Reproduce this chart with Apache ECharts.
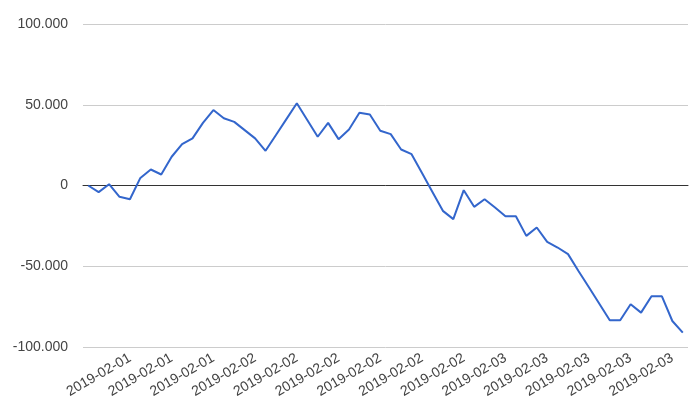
<!DOCTYPE html>
<html>
<head>
<meta charset="utf-8">
<script src="https://cdn.jsdelivr.net/npm/echarts@6/dist/echarts.min.js"></script>
<style>
  html, body { margin: 0; padding: 0; background: #fff; }
  #chart { width: 700px; height: 409px; }
</style>
</head>
<body>
<div id="chart"></div>
<script>
const categories = [
  "2019-02-01","2019-02-01","2019-02-01","2019-02-01","2019-02-01",
  "2019-02-01","2019-02-01","2019-02-01","2019-02-01","2019-02-01",
  "2019-02-01","2019-02-01","2019-02-01","2019-02-01","2019-02-01",
  "2019-02-02","2019-02-02","2019-02-02","2019-02-02","2019-02-02",
  "2019-02-02","2019-02-02","2019-02-02","2019-02-02","2019-02-02",
  "2019-02-02","2019-02-02","2019-02-02","2019-02-02","2019-02-02",
  "2019-02-02","2019-02-02","2019-02-02","2019-02-02","2019-02-02",
  "2019-02-02","2019-02-02","2019-02-02",
  "2019-02-03","2019-02-03","2019-02-03","2019-02-03","2019-02-03",
  "2019-02-03","2019-02-03","2019-02-03","2019-02-03","2019-02-03",
  "2019-02-03","2019-02-03","2019-02-03","2019-02-03","2019-02-03",
  "2019-02-03","2019-02-03","2019-02-03","2019-02-03","2019-02-03"
];
const values = [
  0, -4100, 800, -7000, -8500, 4700, 9900, 6800, 17800, 25600,
  29200, 38800, 46700, 41600, 39400, 34300, 29200, 21500, 31300, 41100,
  50900, 40500, 30200, 38800, 28700, 34700, 45000, 44000, 33900, 31800,
  22300, 19400, 7700, -4000, -15700, -20800, -2900, -13200, -8500, -13600,
  -19000, -19000, -31200, -26000, -34900, -38400, -42500, -52900, -63000, -73200,
  -83400, -83400, -73500, -78700, -68600, -68600, -83900, -91100
];
const yTicks = { min: -100000, max: 100000, step: 50000 };

function fmt(v) {
  const s = Math.abs(v).toString().replace(/\B(?=(\d{3})+(?!\d))/g, ".");
  return (v < 0 ? "-" : "") + s;
}

const chart = echarts.init(document.getElementById('chart'), null, { renderer: 'canvas' });
chart.setOption({
  animation: false,
  backgroundColor: '#ffffff',
  grid: { left: 83, right: 12, top: 24, bottom: 62, containLabel: false },
  xAxis: {
    type: 'category',
    data: categories,
    boundaryGap: true,
    axisLine: { show: true, onZero: true, lineStyle: { color: '#333333', width: 1 } },
    axisTick: { show: false },
    splitLine: { show: false },
    axisLabel: {
      interval: function (index) { return index > 0 && index % 4 === 0; },
      rotate: 30,
      margin: 10,
      color: '#444444',
      fontFamily: 'Liberation Sans, Arial, sans-serif',
      fontSize: 14
    }
  },
  yAxis: {
    type: 'value',
    min: yTicks.min,
    max: yTicks.max,
    interval: yTicks.step,
    axisLine: { show: false },
    axisTick: { show: false },
    splitLine: { show: true, lineStyle: { color: '#cccccc', width: 1 } },
    axisLabel: {
      margin: 15,
      color: '#444444',
      fontFamily: 'Liberation Sans, Arial, sans-serif',
      fontSize: 14,
      formatter: fmt
    }
  },
  series: [{
    type: 'line',
    data: values,
    showSymbol: false,
    symbol: 'none',
    lineStyle: { color: '#3366cc', width: 2 },
    itemStyle: { color: '#3366cc' }
  }]
});
</script>
</body>
</html>
